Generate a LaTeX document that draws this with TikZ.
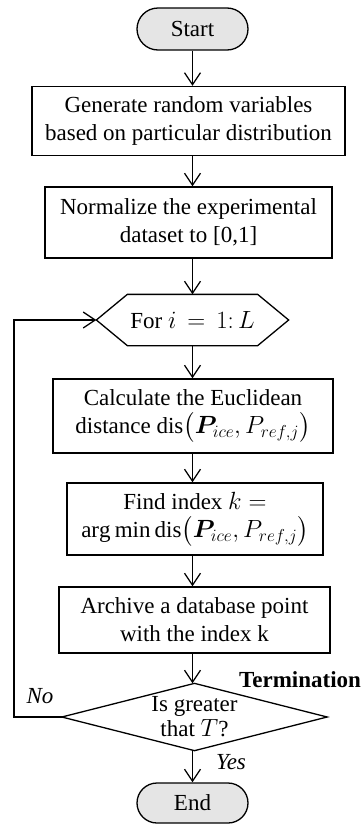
\documentclass[tikz,border=0pt]{standalone}
\usepackage{amsmath,bm}
\usepackage{fontspec}
\setmainfont{Liberation Serif}
\usetikzlibrary{arrows.meta,shapes.misc,calc}
\begin{document}
\begin{tikzpicture}[x=1pt,y=-1pt,
  line width=1.3pt,
  every node/.style={font=\fontsize{23}{28}\selectfont, align=center, inner sep=0pt},
  proc/.style={draw, rectangle},
  term/.style={draw, rounded rectangle, fill=black!10, minimum width=111pt},
  flow/.style={-{Straight Barb[length=12pt,width=16pt,line width=1.3pt]}},
]
\useasboundingbox (0,0) rectangle (363,825);

\node[term, minimum height=42pt] (start) at (192.5,29) {Start};
\node[proc, minimum width=313pt, minimum height=69pt] (b1) at (188.5,121)
  {Generate random variables\\based on particular distribution};
\node[proc, minimum width=287pt, minimum height=71pt] (b2) at (188.5,222.5)
  {Normalize the experimental\\dataset to [0,1]};
\node[minimum width=191pt, minimum height=50pt] (loop) at (192.5,320)
  {For $i\,=\,1{:}\,L$};
\draw ($(loop.north west)+(31,0)$) -- ($(loop.north east)+(-31,0)$) -- (loop.east)
  -- ($(loop.south east)+(-31,0)$) -- ($(loop.south west)+(31,0)$) -- (loop.west) -- cycle;
\node[proc, minimum width=280pt, minimum height=74pt] (b3) at (193,416)
  {Calculate the Euclidean\\distance $\mathrm{dis}\bigl(\bm{P}_{ice},P_{ref,j}\bigr)$};
\node[proc, minimum width=256pt, minimum height=72pt] (b4) at (195,519)
  {Find index $k=$\\$\arg\min\mathrm{dis}\bigl(\bm{P}_{ice},P_{ref,j}\bigr)$};
\node[proc, minimum width=271pt, minimum height=66pt] (b5) at (194.5,620)
  {Archive a database point\\with the index k};
\node[minimum width=264pt, minimum height=66pt, font=\fontsize{23}{25}\selectfont] (dec) at (194.5,717)
  {Is greater\\that $T$?};
\draw (dec.west) -- (dec.north) -- (dec.east) -- (dec.south) -- cycle;
\node[term, minimum height=40pt] (end) at (192.5,803) {End};

\node[font=\fontsize{23}{28}\selectfont\bfseries] (termlbl) at (300,680) {Termination};
\node[font=\fontsize{23}{28}\selectfont\itshape] (nolbl) at (40,696) {No};
\node[font=\fontsize{23}{28}\selectfont\itshape] (yeslbl) at (231,762) {Yes};

\draw[flow] (start.south) -- (start.south |- b1.north);
\draw[flow] (start.south |- b1.south) -- (start.south |- b2.north);
\draw[flow] (start.south |- b2.south) -- (loop.north);
\draw[flow] (loop.south) -- (loop.south |- b3.north);
\draw[flow] (loop.south |- b3.south) -- (loop.south |- b4.north);
\draw[flow] (loop.south |- b4.south) -- (loop.south |- b5.north);
\draw[flow] (loop.south |- b5.south) -- (loop.south |- dec.north);
\draw[flow] (loop.south |- dec.south) -- (end.north);
\coordinate (lx) at (14,0);
\draw[flow] (dec.west) -- (lx |- dec.west) -- (lx |- loop.west) -- (loop.west);
\end{tikzpicture}
\end{document}
